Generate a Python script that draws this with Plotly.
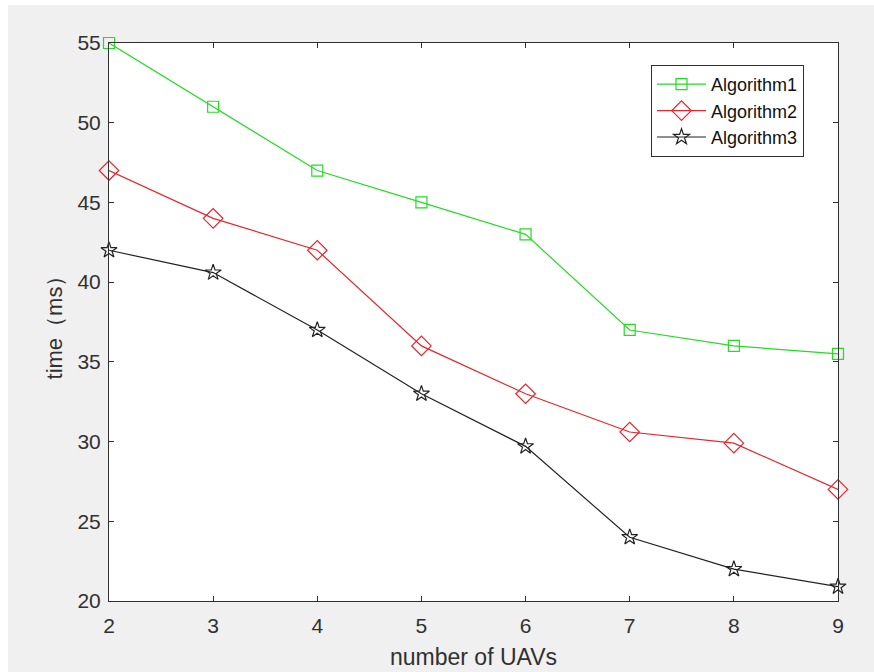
import plotly.graph_objects as go

uavs = [2, 3, 4, 5, 6, 7, 8, 9]
alg1 = [55, 51, 47, 45, 43, 37, 36, 35.5]
alg2 = [47, 44, 42, 36, 33, 30.6, 29.9, 27]
alg3 = [42, 40.6, 37, 33, 29.7, 24, 22, 20.9]
names = ["Algorithm1", "Algorithm2", "Algorithm3"]
x_ticks = [2, 3, 4, 5, 6, 7, 8, 9]
y_ticks = [20, 25, 30, 35, 40, 45, 50, 55]

FONT = "Liberation Sans, Arial, sans-serif"
AX = "#303030"

fig = go.Figure()
styles = [
    dict(color="#22dd22", symbol="square-open", size=11),
    dict(color="#e8242c", symbol="diamond-open", size=15),
    dict(color="#222222", symbol="star-open", size=12),
]
for name, ys, st in zip(names, [alg1, alg2, alg3], styles):
    fig.add_trace(go.Scatter(
        x=uavs, y=ys, name=name, mode="lines+markers",
        line=dict(color=st["color"], width=1.2),
        marker=dict(symbol=st["symbol"], size=st["size"], color=st["color"],
                    line=dict(color=st["color"], width=1.2)),
        cliponaxis=False,
    ))

fig.update_layout(
    width=874, height=672,
    margin=dict(l=109, r=36, t=43, b=71),
    paper_bgcolor="#f0f0f0",
    plot_bgcolor="white",
    font=dict(family=FONT, size=20, color=AX),
    showlegend=True,
    legend=dict(
        x=0.7435, y=0.9606, xanchor="left", yanchor="top",
        bgcolor="white", bordercolor=AX, borderwidth=1,
        font=dict(family=FONT, size=18, color="#111111"),
        tracegroupgap=0, itemwidth=49,
    ),
    shapes=[
        dict(type="rect", xref="paper", yref="paper",
             x0=-109/729, x1=-101/729, y0=-71/558, y1=(558+43)/558,
             fillcolor="white", line=dict(width=0), layer="below"),
        dict(type="rect", xref="paper", yref="paper",
             x0=-109/729, x1=(729+36)/729, y0=(558+38)/558, y1=(558+43)/558,
             fillcolor="white", line=dict(width=0), layer="below"),
    ],
)

fig.update_xaxes(
    range=[2, 9], tickmode="array", tickvals=x_ticks,
    ticks="inside", ticklen=5, tickcolor=AX, tickwidth=1,
    showline=True, linecolor=AX, linewidth=1, mirror="ticks",
    showgrid=False, zeroline=False, ticklabelstandoff=6, automargin=False,
    tickfont=dict(family=FONT, size=21, color=AX),
    title=dict(text="number of UAVs", font=dict(family=FONT, size=23, color=AX), standoff=12),
)
fig.update_yaxes(
    range=[20, 55], tickmode="array", tickvals=y_ticks,
    ticks="inside", ticklen=5, tickcolor=AX, tickwidth=1,
    showline=True, linecolor=AX, linewidth=1, mirror="ticks",
    showgrid=False, zeroline=False, ticklabelstandoff=3, automargin=False,
    tickfont=dict(family=FONT, size=21, color=AX),
    title=dict(text="time（ms）", font=dict(family=FONT, size=22, color=AX), standoff=8),
)

fig.write_html(
    "out.html",
    config={"displayModeBar": False},
    post_script="document.documentElement.style.overflow='hidden';"
                "document.body.style.margin='0px';document.body.style.overflow='hidden';"
                "document.body.style.background='#f0f0f0';",
)
